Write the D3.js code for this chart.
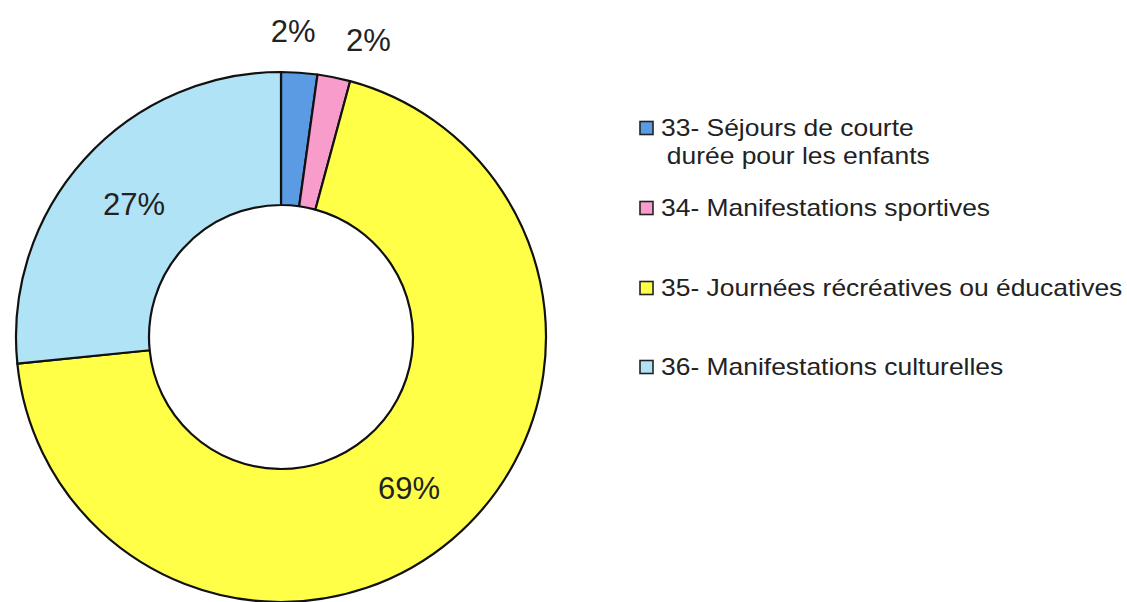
<!DOCTYPE html>
<html lang="fr">
  <head>
    <meta charset="utf-8"/>
    <script src="https://d3js.org/d3.v7.min.js"></script>
    <title>Donut</title>
    <style>
      body { margin: 0; background: #fff; }
      text { font-family: "Liberation Sans", Arial, sans-serif; fill: #222; }
    </style>
  </head>
  <body>
    <svg id="chart"></svg>
    <script>
      const width = 1127;
      const height = 602;

      // données
      const categories = [
        ["33- Séjours de courte", "durée pour les enfants"],
        ["34- Manifestations sportives"],
        ["35- Journées récréatives ou éducatives"],
        ["36- Manifestations culturelles"]
      ];
      const values = [2.2, 2.0, 69.2, 26.6];
      const colors = ["#5b9be3", "#f79ccb", "#ffff48", "#b0e3f6"];

      const cx = 281, cy = 337;
      const outerR = 265, innerR = 132;

      const svg = d3.select("#chart")
        .attr("width", width)
        .attr("height", height);

      const pie = d3.pie().sort(null).value(d => d);
      const arcs = pie(values);

      const arc = d3.arc().innerRadius(innerR).outerRadius(outerR);
      const midArc = d3.arc().innerRadius(198).outerRadius(198);
      const outArc = d3.arc().innerRadius(307).outerRadius(307);

      const g = svg.append("g").attr("transform", `translate(${cx},${cy})`);

      g.selectAll("path")
        .data(arcs)
        .enter()
        .append("path")
        .attr("d", arc)
        .style("fill", (d, i) => colors[i])
        .style("stroke", "#111")
        .style("stroke-width", 2.2)
        .style("stroke-linejoin", "round");

      // étiquettes : les petites tranches à l'extérieur
      const nudge = [[-9, 0], [26, 4], [0, 0], [0, 0]];
      const fmt = d => Math.round(d) + "%";

      g.selectAll("text.pct")
        .data(arcs)
        .enter()
        .append("text")
        .attr("class", "pct")
        .attr("transform", (d, i) => {
          const p = (d.data < 5 ? outArc : midArc).centroid(d);
          return `translate(${p[0] + nudge[i][0]},${p[1] + nudge[i][1]})`;
        })
        .attr("text-anchor", "middle")
        .attr("dy", "0.36em")
        .style("font-size", "31px")
        .text(d => fmt(d.data));

      // légende
      const legendY = d3.scaleOrdinal()
        .domain(d3.range(categories.length))
        .range([128, 208, 288, 367]);

      const legend = svg.append("g").attr("class", "legend");

      const rows = legend.selectAll("g")
        .data(categories)
        .enter()
        .append("g")
        .attr("transform", (d, i) => `translate(640,${legendY(i)})`);

      rows.append("rect")
        .attr("x", 0)
        .attr("y", -6.5)
        .attr("width", 13)
        .attr("height", 13)
        .style("fill", (d, i) => colors[i])
        .style("stroke", "#222")
        .style("stroke-width", 1.6);

      rows.append("text")
        .attr("transform", "translate(21,8) scale(1.15,1)")
        .style("font-size", "23px")
        .selectAll("tspan")
        .data(d => d)
        .enter()
        .append("tspan")
        .attr("x", (d, i) => i === 0 ? 0 : 5)
        .attr("dy", (d, i) => i === 0 ? 0 : 28)
        .text(d => d);
    </script>
  </body>
</html>
